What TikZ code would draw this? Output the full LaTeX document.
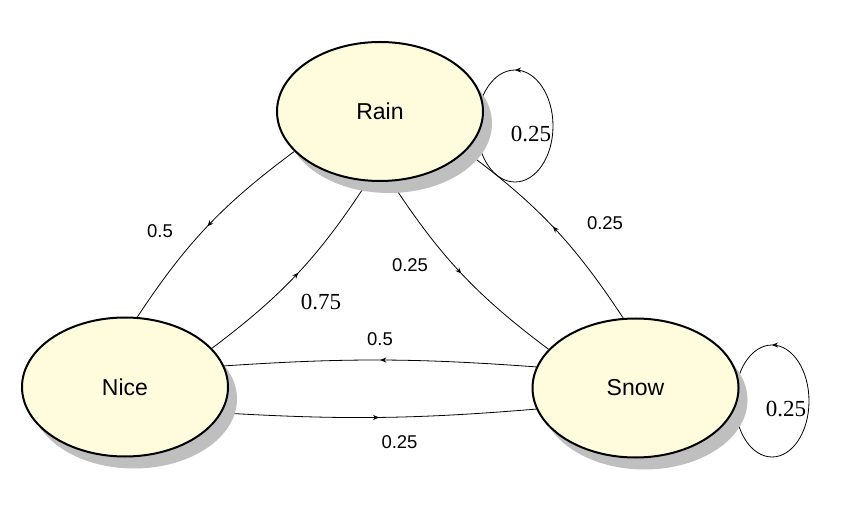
\documentclass[tikz,border=0pt]{standalone}
\usepackage{fontspec}
\setmainfont{Liberation Serif}
\newfontfamily\arialfont{Liberation Sans}
\usepackage{tikz}
\usetikzlibrary{arrows.meta,positioning,calc,shapes.geometric,shadows,backgrounds,decorations.markings}
\definecolor{statefill}{RGB}{255,252,222}

\begin{document}
\begin{tikzpicture}[x=1pt,y=1pt]
\tikzset{state/.style={
    ellipse,
    draw, line width=2pt,
    fill=statefill,
    minimum width=206pt, minimum height=139pt,
    inner sep=0pt,
    font=\arialfont\fontsize{23}{27}\selectfont,
    drop shadow={shadow xshift=9pt, shadow yshift=-12pt, fill=black!25, opacity=1}
  },
  trans/.style={
    draw, line width=0.8pt,
    postaction={decorate},
    decoration={markings, mark=at position #1 with {\arrow{Stealth[length=6pt,width=5pt]}}}
  },
  trans/.default=0.5,
  prob/.style={font=\arialfont\fontsize{18.5}{22}\selectfont, inner sep=0pt},
  bigprob/.style={font=\fontsize{23}{27}\selectfont, inner sep=0pt}
}
\useasboundingbox (0,0) rectangle (845,522);

\node[state] (rain) at (380,410.5) {Rain};
\node[state] (nice) at (125,135) {Nice};
\node[state] (snow) at (635.5,134) {Snow};

\begin{pgfonlayer}{background}
\draw[trans] (rain.205) to[bend right=10] (nice.80);
\draw[trans] (nice.24) to[bend right=10] (rain.260);
\draw[trans] (rain.279) to[bend right=10] (snow.156);
\draw[trans] (snow.100) to[bend right=10] (rain.335);
\draw[trans] (snow.168) to[bend right=4] (nice.12);
\draw[trans] (nice.345) to[bend right=4] (snow.192);
% self loops
\draw[trans=0.25] ($(rain)+(135,-14.5)$) ellipse (38 and 56);
\draw[trans=0.25] ($(snow)+(136.5,-13)$) ellipse (37 and 56);
\end{pgfonlayer}

\node[prob] (p-rn) at (160,291) {0.5};
\node[bigprob] (p-nr) at (321,220) {0.75};
\node[prob] (p-rs) at (410,257) {0.25};
\node[prob] (p-sr) at (605,299) {0.25};
\node[prob] (p-sn) at (380,183) {0.5};
\node[prob] (p-ns) at (399.5,80) {0.25};
\node[bigprob] (p-rr) at (531,388) {0.25};
\node[bigprob] (p-ss) at (786,113) {0.25};
\end{tikzpicture}
\end{document}
